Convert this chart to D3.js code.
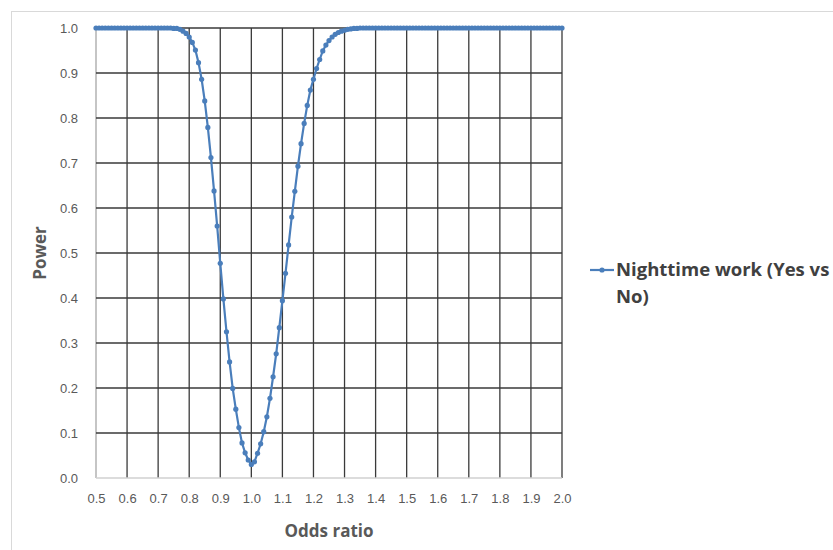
<!DOCTYPE html>
<html>
<head>
<meta charset="utf-8">
<script src="https://cdn.jsdelivr.net/npm/d3@7"></script>
<style>
  body { margin: 0; background: #fff; }
  svg { display: block; font-family: "Open Sans", sans-serif; }
</style>
</head>
<body>
<div id="chart"></div>
<script>

// odds ratio (x) values, one every 0.01
var oddsRatio = [
  0.50, 0.51, 0.52, 0.53, 0.54, 0.55, 0.56, 0.57, 0.58, 0.59,
  0.60, 0.61, 0.62, 0.63, 0.64, 0.65, 0.66, 0.67, 0.68, 0.69,
  0.70, 0.71, 0.72, 0.73, 0.74, 0.75, 0.76, 0.77, 0.78, 0.79,
  0.80, 0.81, 0.82, 0.83, 0.84, 0.85, 0.86, 0.87, 0.88, 0.89,
  0.90, 0.91, 0.92, 0.93, 0.94, 0.95, 0.96, 0.97, 0.98, 0.99,
  1.00, 1.01, 1.02, 1.03, 1.04, 1.05, 1.06, 1.07, 1.08, 1.09,
  1.10, 1.11, 1.12, 1.13, 1.14, 1.15, 1.16, 1.17, 1.18, 1.19,
  1.20, 1.21, 1.22, 1.23, 1.24, 1.25, 1.26, 1.27, 1.28, 1.29,
  1.30, 1.31, 1.32, 1.33, 1.34, 1.35, 1.36, 1.37, 1.38, 1.39,
  1.40, 1.41, 1.42, 1.43, 1.44, 1.45, 1.46, 1.47, 1.48, 1.49,
  1.50, 1.51, 1.52, 1.53, 1.54, 1.55, 1.56, 1.57, 1.58, 1.59,
  1.60, 1.61, 1.62, 1.63, 1.64, 1.65, 1.66, 1.67, 1.68, 1.69,
  1.70, 1.71, 1.72, 1.73, 1.74, 1.75, 1.76, 1.77, 1.78, 1.79,
  1.80, 1.81, 1.82, 1.83, 1.84, 1.85, 1.86, 1.87, 1.88, 1.89,
  1.90, 1.91, 1.92, 1.93, 1.94, 1.95, 1.96, 1.97, 1.98, 1.99,
  2.00
];

// power for "Nighttime work (Yes vs No)"
var powerNighttime = [
  1, 1, 1, 1, 1, 1, 1, 1, 1, 1,
  1, 1, 1, 1, 1, 1, 1, 1, 1, 1,
  1, 1, 1, 1, 1, 0.999, 0.999, 0.997, 0.993, 0.988,
  0.980, 0.968, 0.951, 0.923, 0.886, 0.838, 0.779, 0.712, 0.638, 0.560,
  0.477, 0.398, 0.325, 0.258, 0.199, 0.153, 0.112, 0.078, 0.056, 0.040,
  0.030, 0.036, 0.055, 0.076, 0.103, 0.136, 0.177, 0.225, 0.276, 0.334,
  0.394, 0.455, 0.518, 0.580, 0.637, 0.693, 0.743, 0.788, 0.828, 0.862,
  0.886, 0.910, 0.930, 0.949, 0.962, 0.972, 0.980, 0.986, 0.990, 0.993,
  0.995, 0.997, 0.998, 0.999, 0.999, 1, 1, 1, 1, 1,
  1, 1, 1, 1, 1, 1, 1, 1, 1, 1,
  1, 1, 1, 1, 1, 1, 1, 1, 1, 1,
  1, 1, 1, 1, 1, 1, 1, 1, 1, 1,
  1, 1, 1, 1, 1, 1, 1, 1, 1, 1,
  1, 1, 1, 1, 1, 1, 1, 1, 1, 1,
  1, 1, 1, 1, 1, 1, 1, 1, 1, 1,
  1
];

var xTicks = [0.5, 0.6, 0.7, 0.8, 0.9, 1.0, 1.1, 1.2, 1.3, 1.4, 1.5, 1.6, 1.7, 1.8, 1.9, 2.0];
var yTicks = [0.0, 0.1, 0.2, 0.3, 0.4, 0.5, 0.6, 0.7, 0.8, 0.9, 1.0];

var seriesName = ['Nighttime work (Yes vs', 'No)'];

var width = 833,
    height = 550,
    margin = { top: 28, left: 96, right: 271, bottom: 72 },
    blue = '#4a7ebb',
    textColor = '#595959';

var svg = d3.select('#chart').append('svg')
    .attr('width', width)
    .attr('height', height);

// chart area frame
svg.append('rect')
    .attr('x', 11.5)
    .attr('y', 11.5)
    .attr('width', 900)
    .attr('height', 600)
    .attr('fill', 'none')
    .attr('stroke', '#d9d9d9');

var x = d3.scaleLinear()
    .domain([0.5, 2.0])
    .range([margin.left, width - margin.right]);

var y = d3.scaleLinear()
    .domain([0, 1])
    .range([height - margin.bottom, margin.top]);

var g = svg.append('g');

// vertical gridlines
g.selectAll('.vgrid')
    .data(xTicks)
  .enter().append('line')
    .attr('class', 'vgrid')
    .attr('x1', function(d) { return x(d); })
    .attr('x2', function(d) { return x(d); })
    .attr('y1', y(0))
    .attr('y2', y(1))
    .attr('stroke', function(d, i) { return i === 0 ? '#a6a6a6' : '#3a3a3a'; })
    .attr('stroke-width', 1.3);

// horizontal gridlines
g.selectAll('.hgrid')
    .data(yTicks)
  .enter().append('line')
    .attr('class', 'hgrid')
    .attr('x1', x(0.5))
    .attr('x2', x(2.0))
    .attr('y1', function(d) { return y(d); })
    .attr('y2', function(d) { return y(d); })
    .attr('stroke', function(d, i) { return i === 0 ? '#d0d0d0' : '#3a3a3a'; })
    .attr('stroke-width', 1.3);

// axes (labels only)
var xAxis = d3.axisBottom(x)
    .tickValues(xTicks)
    .tickFormat(d3.format('.1f'))
    .tickSize(0)
    .tickPadding(16);

var yAxis = d3.axisLeft(y)
    .tickValues(yTicks)
    .tickFormat(d3.format('.1f'))
    .tickSize(0)
    .tickPadding(18);

svg.append('g')
    .attr('transform', 'translate(0,' + y(0) + ')')
    .call(xAxis)
    .call(function(a) { a.select('.domain').remove(); })
    .selectAll('text')
      .attr('fill', textColor)
      .style('font-size', '13px');

svg.append('g')
    .attr('transform', 'translate(' + x(0.5) + ',0)')
    .call(yAxis)
    .call(function(a) { a.select('.domain').remove(); })
    .selectAll('text')
      .attr('fill', textColor)
      .style('font-size', '13px');

// axis titles
svg.append('text')
    .attr('x', (x(0.5) + x(2.0)) / 2)
    .attr('y', 537)
    .attr('text-anchor', 'middle')
    .attr('fill', textColor)
    .style('font-size', '17px')
    .style('font-weight', 'bold')
    .text('Odds ratio');

svg.append('text')
    .attr('transform', 'translate(46,' + y(0.5) + ') rotate(-90)')
    .attr('text-anchor', 'middle')
    .attr('fill', textColor)
    .style('font-size', '17px')
    .style('font-weight', 'bold')
    .text('Power');

// series
var points = oddsRatio.map(function(d, i) { return { x: d, y: powerNighttime[i] }; });

var line = d3.line()
    .x(function(d) { return x(d.x); })
    .y(function(d) { return y(d.y); });

svg.append('path')
    .datum(points)
    .attr('d', line)
    .attr('fill', 'none')
    .attr('stroke', blue)
    .attr('stroke-width', 2.2);

svg.selectAll('.dot')
    .data(points)
  .enter().append('circle')
    .attr('class', 'dot')
    .attr('cx', function(d) { return x(d.x); })
    .attr('cy', function(d) { return y(d.y); })
    .attr('r', 2.6)
    .attr('fill', blue);

// legend
var legend = svg.append('g')
    .attr('transform', 'translate(590,270)');

legend.append('line')
    .attr('x1', 0)
    .attr('x2', 24)
    .attr('stroke', blue)
    .attr('stroke-width', 2.2);

legend.append('circle')
    .attr('cx', 12)
    .attr('r', 2.6)
    .attr('fill', blue);

legend.selectAll('text')
    .data(seriesName)
  .enter().append('text')
    .attr('x', 26)
    .attr('y', function(d, i) { return 6 + i * 27; })
    .attr('fill', '#404040')
    .style('font-size', '18.5px')
    .style('font-weight', 'bold')
    .text(function(d) { return d; });

</script>
</body>
</html>
